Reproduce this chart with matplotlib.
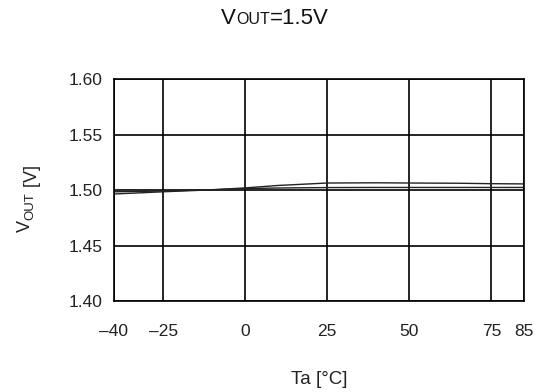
import matplotlib
matplotlib.use("Agg")
import matplotlib.pyplot as plt
from matplotlib.offsetbox import TextArea, HPacker, AnchoredOffsetbox

plt.rcParams['font.family'] = ['Liberation Sans', 'DejaVu Sans']

# Ta [°C] vs VOUT [V], two samples
ta = [-40, -25, -10, 0, 10, 25, 40, 50, 65, 75, 85]
vout_a = [1.4965, 1.4985, 1.5003, 1.502, 1.5042, 1.5064, 1.5066, 1.5064, 1.5062, 1.5058, 1.5056]
vout_b = [1.4985, 1.4992, 1.5004, 1.5014, 1.5019, 1.5023, 1.5024, 1.5024, 1.5024, 1.5024, 1.5024]

xticks = [-40, -25, 0, 25, 50, 75, 85]
xticklabels = ['\u201340', '\u201325', '0', '25', '50', '75', '85']
yticks = [1.40, 1.45, 1.50, 1.55, 1.60]

fig = plt.figure(figsize=(5.39, 3.92), dpi=100)
ax = fig.add_axes([0.2115, 0.232, 0.761, 0.566])

ax.plot(ta, vout_a, color='#222222', lw=1.0)
ax.plot(ta, vout_b, color='#222222', lw=1.0)

ax.set_xlim(-40, 85)
ax.set_ylim(1.40, 1.60)
ax.set_xticks(xticks)
ax.set_xticklabels(xticklabels)
ax.set_yticks(yticks)
ax.set_yticklabels([f'{v:.2f}' for v in yticks])
ax.tick_params(length=0, labelsize=12.5, colors='#222222')
ax.tick_params(axis='x', pad=16.5)
ax.tick_params(axis='y', pad=8)
ax.grid(True, color='black', lw=1.2)
for s in ax.spines.values():
    s.set_linewidth(1.2)

ax.set_xlabel('Ta [°C]', fontsize=13.5, labelpad=23, color='#222222')

# y label: V + small OUT + [V], rotated, pieces chained along the baseline
t1 = fig.text(0.055, 0.408, 'V', fontsize=13, rotation=90,
              rotation_mode='anchor', ha='left', va='baseline', color='#222222')
t2 = ax.annotate('OUT', xy=(1, 1), xycoords=t1, fontsize=9.5, rotation=90,
                 rotation_mode='anchor', ha='left', va='baseline', color='#222222',
                 annotation_clip=False)
t3 = ax.annotate(' [V]', xy=(1, 1), xycoords=t2, fontsize=13, rotation=90,
                 rotation_mode='anchor', ha='left', va='baseline', color='#222222',
                 annotation_clip=False)

# title: V + small OUT + =1.5V
parts = [TextArea('V', textprops=dict(size=16, color='#111111')),
         TextArea('OUT', textprops=dict(size=11.5, color='#111111')),
         TextArea('=1.5V', textprops=dict(size=16, color='#111111'))]
box = HPacker(children=parts, align='baseline', pad=0, sep=0)
ab = AnchoredOffsetbox(loc='center', child=box, frameon=False,
                       bbox_to_anchor=(0.51, 0.952), bbox_transform=fig.transFigure)
fig.add_artist(ab)

fig.savefig('out.png', dpi=100)
